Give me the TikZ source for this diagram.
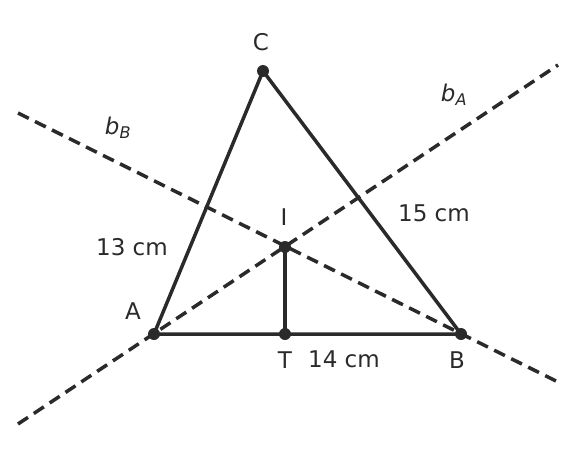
\documentclass[tikz,border=0pt]{standalone}
\usepackage{fontspec}
\setmainfont{DejaVu Sans}
\definecolor{ink}{HTML}{2A2A2A}
\begin{document}
\begin{tikzpicture}[x=1pt,y=-1pt,
  seg/.style={draw=ink,line width=3.5pt,line cap=round},
  bis/.style={draw=ink,line width=3.5pt,dash pattern=on 12pt off 7pt},
  pt/.style={circle,fill=ink,inner sep=0pt,minimum size=12pt},
  lab/.style={text=ink,font=\fontsize{23}{27}\selectfont,inner sep=0pt}]
\useasboundingbox (0,0) rectangle (576,461);
\coordinate (bA1) at (18,424);
\coordinate (bA2) at (558,65);
\coordinate (bB1) at (18,113);
\coordinate (bB2) at (558,382);
\draw[bis] (bA1) -- (bA2);
\draw[bis] (bB1) -- (bB2);
\node[pt] (A) at (154,334) {};
\node[pt] (B) at (461,334) {};
\node[pt] (C) at (263,71) {};
\node[pt] (I) at (285,247) {};
\node[pt] (T) at (285,334) {};
\draw[seg] (A.center) -- (B.center) -- (C.center) -- cycle;
\draw[seg] (I.center) -- (T.center);
\node[lab] (lC) at (261,42) {C};
\node[lab] (lA) at (133,311) {A};
\node[lab] (lB) at (457,360) {B};
\node[lab] (lT) at (285,360) {T};
\node[lab] (lI) at (284,217) {I};
\node[lab] (l13) at (132,247) {13 cm};
\node[lab] (l14) at (344,359) {14 cm};
\node[lab] (l15) at (434,213) {15 cm};
\node[lab] (lbA) at (454,95) {\textit{b}\textsubscript{\textit{A}}};
\node[lab] (lbB) at (118,128) {\textit{b}\textsubscript{\textit{B}}};
\end{tikzpicture}
\end{document}
